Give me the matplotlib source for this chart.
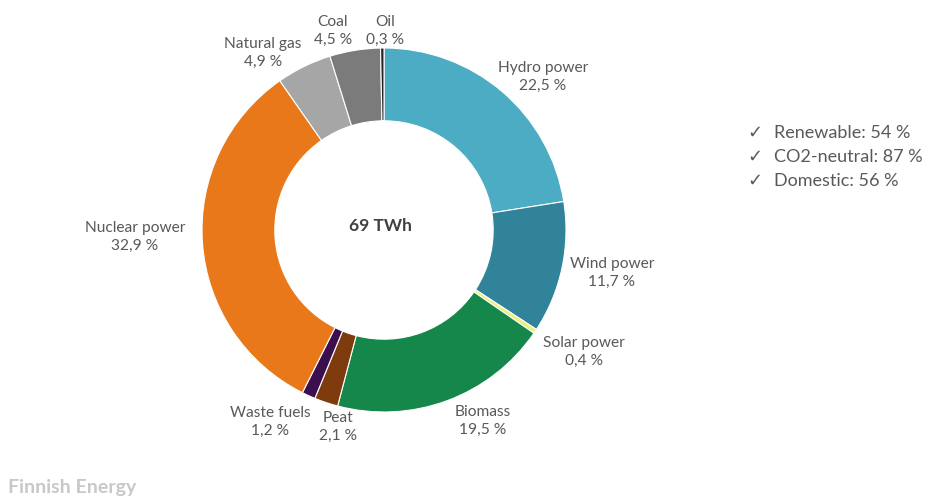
#!/usr/bin/env python3
"""
Finnish electricity supply by energy source - donut chart.
"""

import matplotlib.pyplot as plt

# Data
sources = ['Hydro power', 'Wind power', 'Solar power', 'Biomass', 'Peat',
           'Waste fuels', 'Nuclear power', 'Natural gas', 'Coal', 'Oil']
shares = [22.5, 11.7, 0.4, 19.5, 2.1, 1.2, 32.9, 4.9, 4.5, 0.3]
total_label = '69 TWh'
highlights = ['Renewable: 54 %', 'CO2-neutral: 87 %', 'Domestic: 56 %']
footer = 'Finnish Energy'

# Styling
colors = ['#4bacc3', '#31839a', '#eaf27c', '#15874a', '#7d3b0e',
          '#3d0e4e', '#e8781a', '#a6a6a6', '#7b7b7b', '#222222']
# label anchor points in pixels (x, y from top)
label_pos = [(543, 77), (612, 273), (584, 352), (483, 421), (338, 427),
             (270, 422), (135, 237), (263, 53), (333, 31), (385, 31)]

W, H = 933, 499
cx, cy, r_out = 384, 230, 182
text_gray = '#595959'
font = ['Lato', 'DejaVu Sans']

fig = plt.figure(figsize=(W / 100, H / 100), dpi=100)
ax = fig.add_axes([0, 0, 1, 1])

# Pie in a flipped-y axis: counterclock=True draws clockwise on screen
ax.pie(shares, colors=colors, startangle=-90, counterclock=True,
       center=(cx, cy), radius=r_out, frame=True,
       wedgeprops=dict(width=r_out * 0.4, edgecolor='white', linewidth=0.8))
ax.set_xlim(0, W)
ax.set_ylim(H, 0)
ax.set_aspect('equal')
ax.axis('off')

for name, val, (x, y) in zip(sources, shares, label_pos):
    txt = f"{name}\n{val:.1f} %".replace('.', ',')
    ax.text(x, y, txt, ha='center', va='center', fontsize=11.2,
            color=text_gray, family=font, linespacing=1.35)

ax.text(cx - 4, cy - 4, total_label, ha='center', va='center', fontsize=12.5,
        fontweight='bold', color='#404040', family=font)

for i, item in enumerate(highlights):
    y = 133 + i * 24
    ax.text(747, y, '\u2713', ha='left', va='center', fontsize=13,
            color=text_gray, family=['DejaVu Sans'])
    ax.text(774, y, item, ha='left', va='center', fontsize=13,
            color=text_gray, family=font)

ax.text(8, 487, footer, ha='left', va='center', fontsize=14,
        color='#c8c8c8', family=font, fontweight='bold')

plt.savefig('out.png', dpi=100, facecolor='white')
plt.close()
